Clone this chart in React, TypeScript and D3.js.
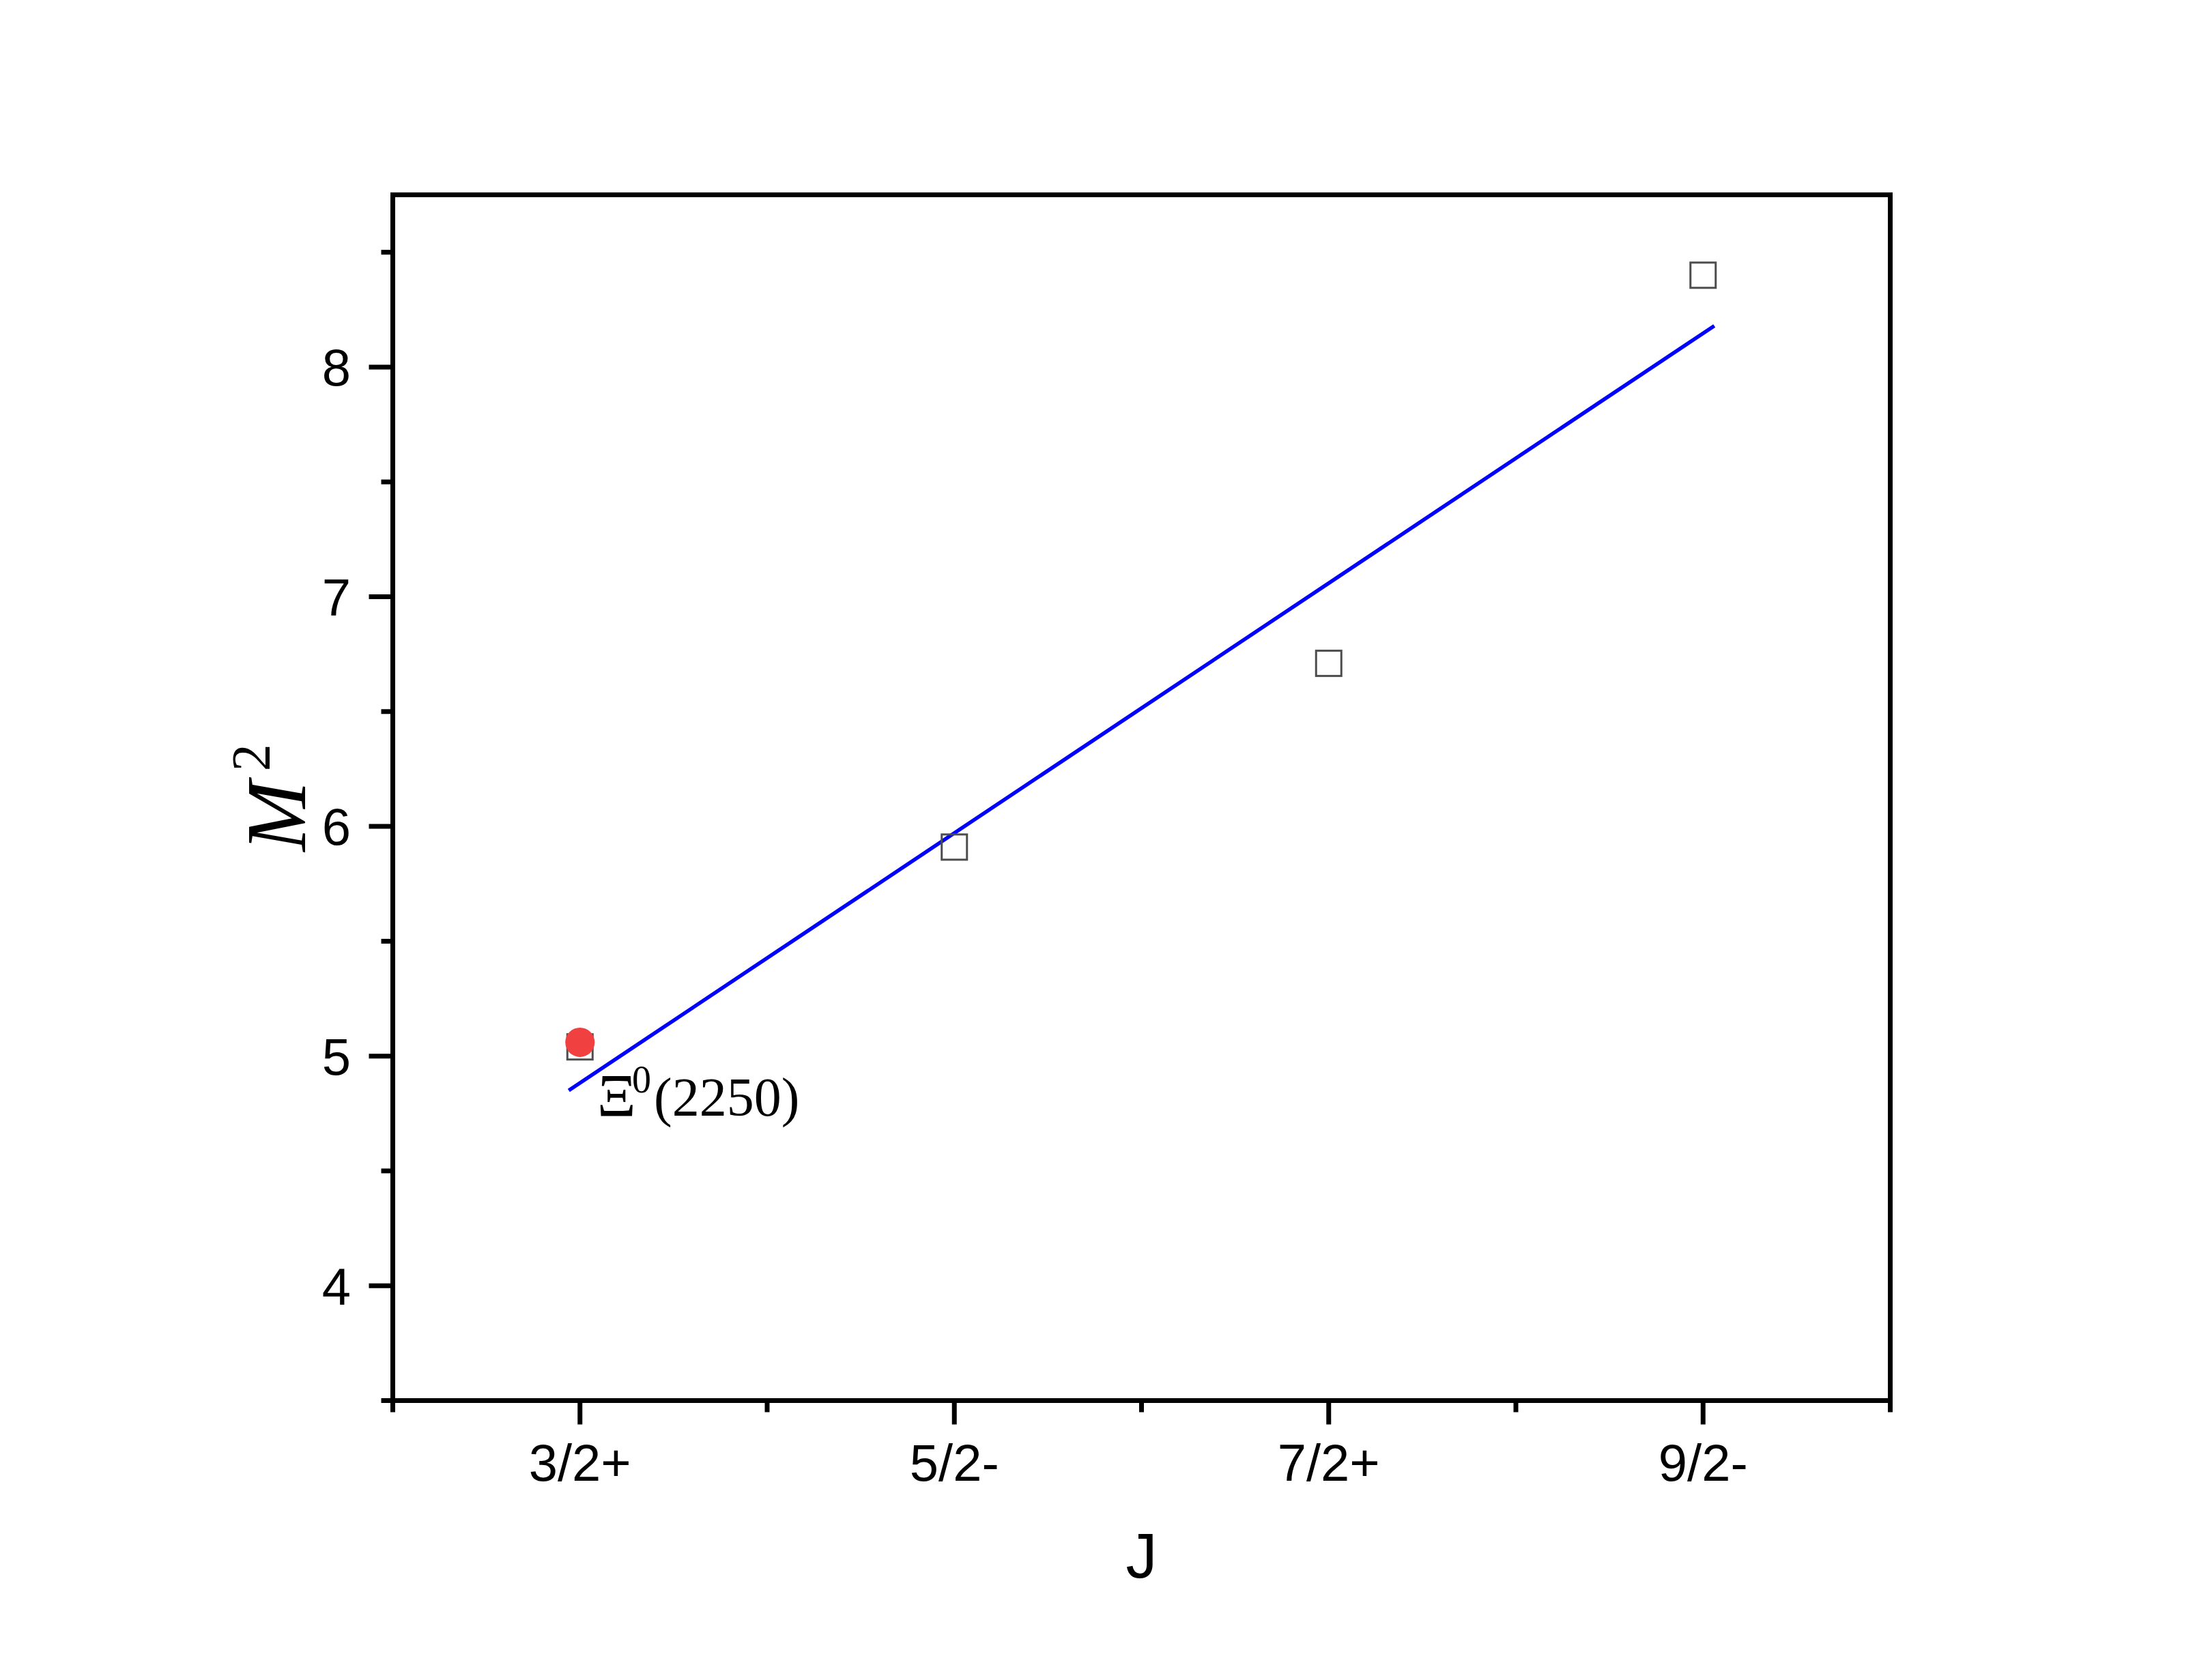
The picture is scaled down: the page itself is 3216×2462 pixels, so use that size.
import React from "react";
import * as d3 from "d3";

const categories = ["3/2+", "5/2-", "7/2+", "9/2-"];
const xIndex = [1, 2, 3, 4];
const m2Values = [5.04, 5.91, 6.71, 8.4];
const highlightValue = 5.06;
const highlightLabel = "(2250)";
const yTicks = [4, 5, 6, 7, 8];
const yMinorTicks = [3.5, 4.5, 5.5, 6.5, 7.5, 8.5];
const xMinorTicks = [0.5, 1.5, 2.5, 3.5, 4.5];
const fitRange = [0.97, 4.03];

const W = 3216;
const H = 2462;
const left = 575.5;
const right = 2769.5;
const top = 285.5;
const bottom = 2052.5;

export default function App() {
  const x = d3.scaleLinear().domain([0.5, 4.5]).range([left, right]);
  const y = d3.scaleLinear().domain([3.5, 8.75]).range([bottom, top]);

  const mx = d3.mean(xIndex) as number;
  const my = d3.mean(m2Values) as number;
  let num = 0;
  let den = 0;
  xIndex.forEach((xi, i) => {
    num += (xi - mx) * (m2Values[i] - my);
    den += (xi - mx) * (xi - mx);
  });
  const slope = num / den;
  const intercept = my - slope * mx;
  const fitPts: [number, number][] = fitRange.map((v) => [v, intercept + slope * v]);
  const linePath = d3
    .line<[number, number]>()
    .x((d) => x(d[0]))
    .y((d) => y(d[1]))(fitPts) as string;

  const sq = 37;
  const sans = "'Liberation Sans', Arial, sans-serif";
  const serif = "'Liberation Serif', 'DejaVu Serif', serif";

  return (
    <svg
      width={W}
      height={H}
      style={{ position: "absolute", left: 0, top: 0, background: "#fff" }}
    >
      <rect x={0} y={0} width={W} height={H} fill="#fff" />
      {/* fit line */}
      <path d={linePath} stroke="#0000ff" strokeWidth={5.5} fill="none" />
      {/* squares */}
      {xIndex.map((xi, i) => (
        <rect
          key={i}
          x={x(xi) - sq / 2}
          y={y(m2Values[i]) - sq / 2}
          width={sq}
          height={sq}
          fill="none"
          stroke="#4d4d4d"
          strokeWidth={3}
        />
      ))}
      {/* highlight */}
      <circle cx={x(1)} cy={y(highlightValue)} r={21.5} fill="#f04040" />
      <text x={875} y={1635} fontFamily={serif} fontSize={88} fill="#000">
        Ξ
      </text>
      <text x={926} y={1601} fontFamily={serif} fontSize={56} fill="#000">
        0
      </text>
      <text x={958} y={1635} fontFamily={serif} fontSize={80} fill="#000">
        {highlightLabel}
      </text>

      {/* frame */}
      <rect
        x={left}
        y={top}
        width={right - left}
        height={bottom - top}
        fill="none"
        stroke="#000"
        strokeWidth={7}
      />
      {/* y ticks */}
      {yTicks.map((t) => (
        <g key={"y" + t}>
          <line x1={left - 35} x2={left} y1={y(t)} y2={y(t)} stroke="#000" strokeWidth={7} />
          <text
            x={514}
            y={y(t)}
            dy="0.36em"
            textAnchor="end"
            fontFamily={sans}
            fontSize={76}
            fill="#000"
          >
            {t}
          </text>
        </g>
      ))}
      {yMinorTicks.map((t) => (
        <line key={"ym" + t} x1={left - 17} x2={left} y1={y(t)} y2={y(t)} stroke="#000" strokeWidth={7} />
      ))}
      {/* x ticks */}
      {xIndex.map((xi, i) => (
        <g key={"x" + xi}>
          <line x1={x(xi)} x2={x(xi)} y1={bottom} y2={bottom + 35} stroke="#000" strokeWidth={7} />
          <text
            x={x(xi)}
            y={2170}
            textAnchor="middle"
            fontFamily={sans}
            fontSize={76}
            fill="#000"
          >
            {categories[i]}
          </text>
        </g>
      ))}
      {xMinorTicks.map((t) => (
        <line key={"xm" + t} x1={x(t)} x2={x(t)} y1={bottom} y2={bottom + 17} stroke="#000" strokeWidth={7} />
      ))}
      {/* axis titles */}
      <text
        x={(left + right) / 2}
        y={2312}
        textAnchor="middle"
        fontFamily={sans}
        fontSize={92}
        fill="#000"
      >
        J
      </text>
      <text
        transform={`translate(447, ${(top + bottom) / 2}) rotate(-90)`}
        textAnchor="middle"
        fontFamily={serif}
        fontStyle="italic"
        fontSize={124}
        fill="#000"
      >
        M
        <tspan fontStyle="normal" fontSize={80} dy={-52} dx={14}>2</tspan>
      </text>
    </svg>
  );
}
